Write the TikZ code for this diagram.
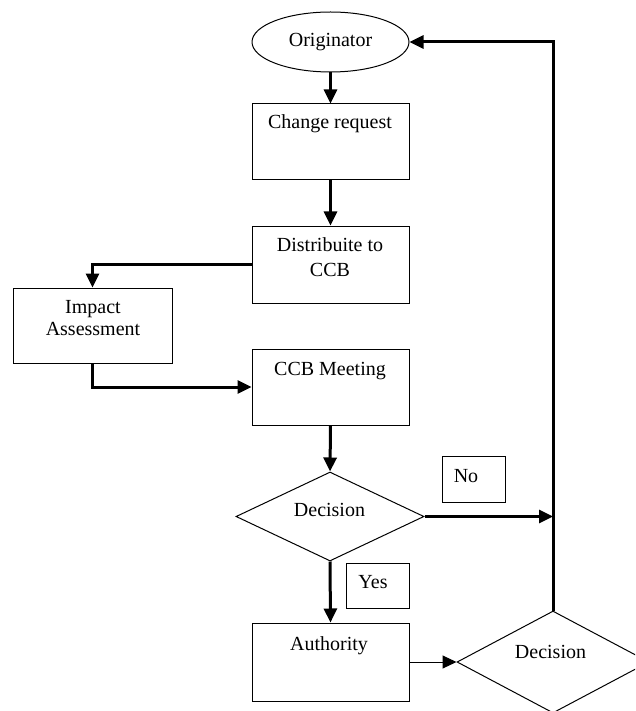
\documentclass[tikz,border=0pt]{standalone}
\usepackage{fontspec}
\setmainfont{Liberation Serif}
\usetikzlibrary{arrows.meta,shapes.geometric}
\begin{document}
\begin{tikzpicture}[x=1pt,y=-1pt,
  stepbox/.style={draw,line width=1pt,rectangle,inner sep=0pt},
  decbox/.style={draw,line width=1pt,diamond,inner sep=0pt},
  lbl/.style={font=\fontsize{20}{25}\selectfont,inner sep=0pt,align=center},
  flow/.style={line width=3pt,line join=miter,-{Triangle[length=14pt,width=13pt]}},
  thinflow/.style={line width=1pt,-{Triangle[length=14pt,width=13pt]}},
]
\useasboundingbox (0,0) rectangle (635,711);
\clip (0,0) rectangle (635,711);

% shapes
\node[draw,ellipse,line width=1pt,minimum width=157pt,minimum height=60pt,inner sep=0pt,
      font=\fontsize{20}{25}\selectfont] (orig) at (330.5,42) {Originator};
\node[stepbox,minimum width=157pt,minimum height=76pt] (cr)   at (330.5,142) {};
\node[stepbox,minimum width=157pt,minimum height=77pt] (dist) at (330.5,264.5) {};
\node[stepbox,minimum width=159pt,minimum height=75pt] (imp)  at (92.5,325.5) {};
\node[stepbox,minimum width=157pt,minimum height=76pt] (ccb)  at (330.5,387) {};
\node[decbox,minimum width=188pt,minimum height=89pt]  (d1)   at (330,516.5) {};
\node[stepbox,minimum width=63pt,minimum height=46pt]  (no)   at (473.5,479) {};
\node[stepbox,minimum width=63pt,minimum height=45pt]  (yes)  at (377.5,585.5) {};
\node[stepbox,minimum width=157pt,minimum height=78pt] (auth) at (330.5,662) {};
\node[decbox,minimum width=192pt,minimum height=102pt] (d2)   at (553,662) {};

% labels
\node[lbl,anchor=base] at (330,129) {Change request};
\node[lbl] at (330,257) {Distribuite to\\CCB};
\node[lbl,font=\fontsize{20}{22}\selectfont] at (93,318.5) {Impact\\Assessment};
\node[lbl,anchor=base] at (330,375) {CCB Meeting};
\node[lbl,anchor=base] at (329.5,516) {Decision};
\node[lbl,anchor=base] at (466,482) {No};
\node[lbl,anchor=base] at (373,588) {Yes};
\node[lbl,anchor=base] at (329,650) {Authority};
\node[lbl,anchor=base] at (550.5,658) {Decision};

% connectors
\draw[flow] (orig.south) -- (cr.north);
\draw[flow] (cr.south) -- (dist.north);
\draw[flow] (dist.west) -| (imp.north);
\draw[flow] (imp.south) |- (ccb.west);
\draw[flow] (ccb.south) -- (d1.north);
\draw[flow] (d1.east) -- (d1.east -| d2.north);
\draw[flow] (d2.north) |- (orig.east);
\draw[flow] (d1.south) -- (auth.north);
\draw[thinflow] (auth.east) -- (d2.west);
\end{tikzpicture}
\end{document}
